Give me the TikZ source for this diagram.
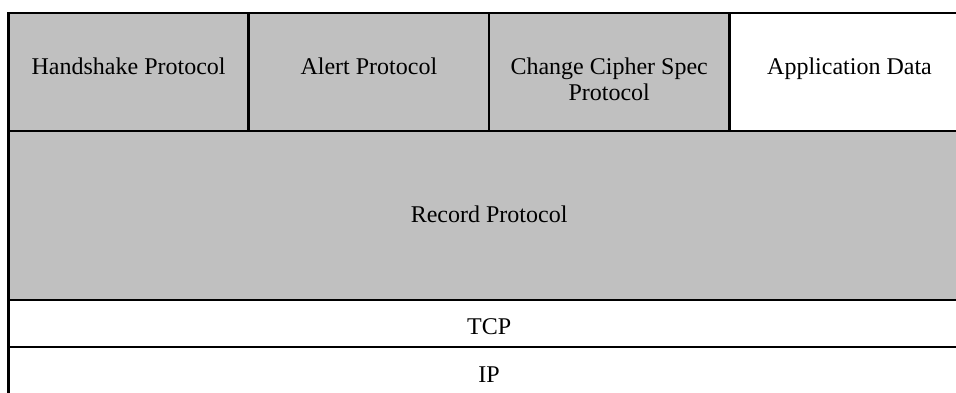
\documentclass[tikz,border=0pt]{standalone}
\usepackage{fontspec}
\setmainfont{Liberation Serif}
\definecolor{silverfill}{HTML}{C0C0C0}
\begin{document}
\begin{tikzpicture}[x=1pt,y=-1pt,
  cell/.style={draw=black, line width=2.6pt, inner sep=0pt},
  shaded/.style={cell, fill=silverfill},
  plain/.style={cell, fill=white},
  txt/.style={inner sep=0pt, anchor=base, align=center,
    font=\fontsize{24}{26}\selectfont}]
\useasboundingbox (0,0) rectangle (956,392);
\clip (0,0) rectangle (956,392);
\node[shaded, minimum width=240.3pt, minimum height=118pt] (hs) at (128.6,72) {};
\node[shaded, minimum width=240.3pt, minimum height=118pt] (al) at (368.9,72) {};
\node[shaded, minimum width=240.3pt, minimum height=118pt] (ccs) at (609.2,72) {};
\node[plain, minimum width=240.3pt, minimum height=118pt] (app) at (849.5,72) {};
\node[shaded, minimum width=961.2pt, minimum height=169pt] (rec) at (489.1,215.5) {};
\node[plain, minimum width=961.2pt, minimum height=47pt] (tcp) at (489.1,323.5) {};
\node[plain, minimum width=961.2pt, minimum height=47pt] (ip) at (489.1,370.5) {};
\node[txt] (hst) at (128.6,74.5) {Handshake Protocol};
\node[txt] (alt) at (368.9,74.5) {Alert Protocol};
\node[txt] (ccst1) at (609.2,74) {Change Cipher Spec};
\node[txt] (ccst2) at (609.2,100) {Protocol};
\node[txt] (appt) at (849.5,74.5) {Application Data};
\node[txt] (rect) at (489.1,222) {Record Protocol};
\node[txt] (tcpt) at (489.1,334) {TCP};
\node[txt] (ipt) at (489.1,382.5) {IP};
\end{tikzpicture}
\end{document}
